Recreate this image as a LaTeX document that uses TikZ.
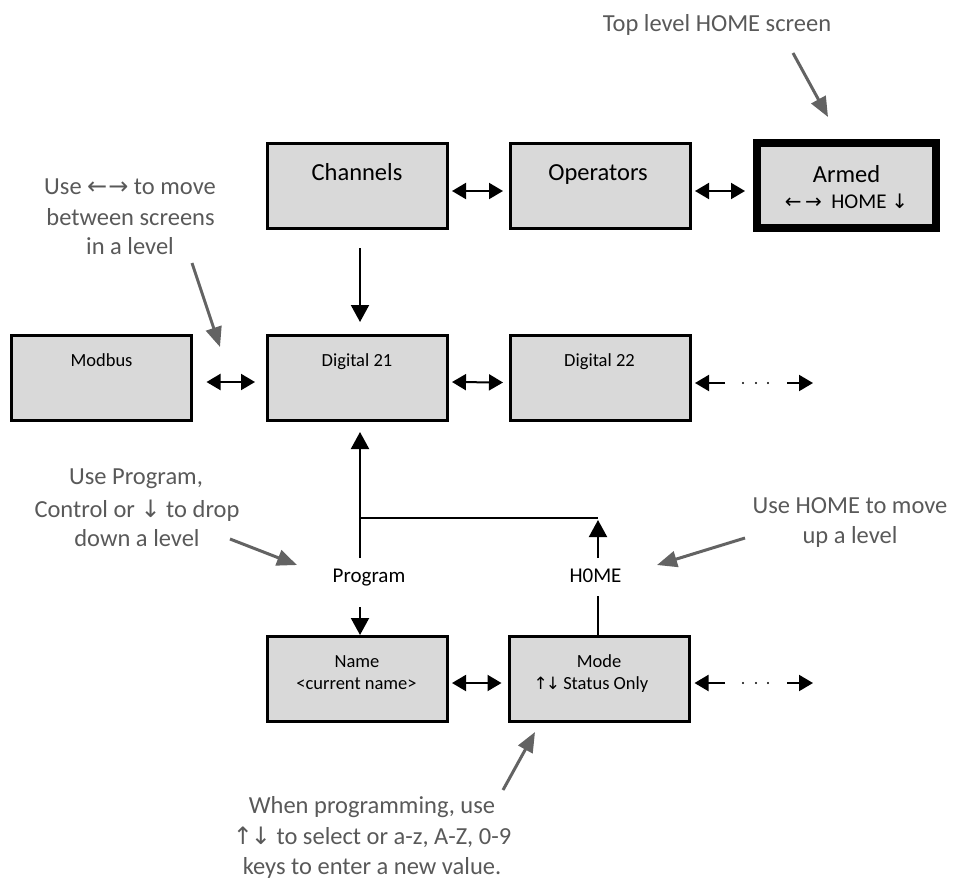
\documentclass[tikz,border=0pt]{standalone}
\usepackage{fontspec}
\setmainfont{Carlito}
\newfontfamily\symfont{DejaVu Sans}
\usetikzlibrary{arrows.meta,calc}
\definecolor{boxgray}{HTML}{D9D9D9}
\definecolor{notegray}{HTML}{595959}
\definecolor{notearrow}{HTML}{636363}
\begin{document}
\begin{tikzpicture}[x=1pt,y=-1pt,
  screen/.style={draw=black,fill=boxgray,line width=3pt,minimum width=180pt,minimum height=85pt,inner sep=0pt,outer sep=0pt},
  big/.style={font=\fontsize{24.5}{29}\selectfont,anchor=base,inner sep=0pt},
  small/.style={font=\fontsize{18.5}{22}\selectfont,anchor=base,inner sep=0pt},
  key/.style={font=\fontsize{21}{25}\selectfont,anchor=base,inner sep=0pt},
  note/.style={font=\fontsize{24.5}{30}\selectfont,text=notegray,anchor=base,inner sep=0pt},
  dbl/.style={line width=2pt,{Triangle[length=14pt,width=16pt]}-{Triangle[length=14pt,width=16pt]}},
  one/.style={line width=2pt,-{Triangle[length=14pt,width=16pt]}},
  vert/.style={line width=2pt,-{Triangle[length=17pt,width=18pt]}},
  plain/.style={line width=2pt},
  notearr/.style={draw=notearrow,line width=3pt,-{Triangle[length=20pt,width=16pt]}}
]
\useasboundingbox (0,0) rectangle (953,879);

% screens
\node[screen] (ch) at (357,185.5) {};
\node[big] (chT) at (357,180) {Channels};
\node[screen] (op) at (600,185.5) {};
\node[big] (opT) at (598,180) {Operators};
\node[screen,line width=8.5pt,minimum width=179pt] (ar) at (846.5,185.5) {};
\node[big] (arT) at (846.5,182) {Armed};
\node[key] (arT2) at (846.5,208) {{\symfont\fontsize{20}{20}\selectfont ←\,→}\ \ HOME {\symfont\fontsize{20}{20}\selectfont ↓}};

\node[screen] (mb) at (101.5,377.5) {};
\node[small] (mbT) at (101.5,366) {Modbus};
\node[screen] (d21) at (357,377.5) {};
\node[small] (d21T) at (357,366) {Digital 21};
\node[screen] (d22) at (600,378) {};
\node[small] (d22T) at (599.5,366) {Digital 22};

\node[screen] (nm) at (357,678.5) {};
\node[small] (nmT) at (357,667) {Name};
\node[small] (nmT2) at (356.5,689) {<current name>};
\node[screen] (md) at (599.5,678.5) {};
\node[small] (mdT) at (599,667) {Mode};
\node[small] (mdT2) at (591,689) {{\symfont\fontsize{17}{20}\selectfont ↑\kern-2pt↓}\,Status Only};

% key labels
\node[key] (prog) at (369,582) {Program};
\node[key] (home) at (595.5,582) {H0ME};

% horizontal connectors
\draw[dbl] ([xshift=5pt,yshift=-5.5pt]ch.east) -- ([xshift=-7pt,yshift=-5.5pt]op.west);
\draw[dbl] ([xshift=5pt,yshift=-5.5pt]op.east) -- ([xshift=-12pt,yshift=-5.5pt]ar.west);
\draw[dbl] ([xshift=15pt,yshift=-4.5pt]mb.east) -- ([xshift=-12pt,yshift=-4.5pt]d21.west);
\draw[dbl] ([xshift=5pt,yshift=-4.5pt]d21.east) -- ([xshift=-7pt,yshift=-4.5pt]d22.west);
\draw[dbl] ([xshift=5pt,yshift=-4.5pt]nm.east) -- ([xshift=-8pt,yshift=-4.5pt]md.west);

% continuation arrows
\coordinate (c1a) at (725,383);
\coordinate (c1b) at (787,383);
\coordinate (c1t) at (813,383);
\draw[one] (c1a) -- ([xshift=5pt,yshift=-5pt]d22.east);
\draw[one] (c1b) -- (c1t);
\foreach \x in {743,756,768} \fill (\x,383) circle (1.2pt);
\coordinate (c2a) at (725,683);
\coordinate (c2b) at (787,683);
\coordinate (c2t) at (813,683);
\draw[one] (c2a) -- ([xshift=5pt,yshift=-4.5pt]md.east);
\draw[one] (c2b) -- (c2t);
\foreach \x in {743,756,768} \fill (\x,683) circle (1.2pt);

% vertical connectors
\draw[vert] ([xshift=3pt,yshift=-20pt]ch.south) -- ([xshift=3pt,yshift=13pt]d21.north);
\coordinate (p1) at (360,558);
\coordinate (p2) at (360,607);
\coordinate (j1) at (360,518);
\coordinate (j2) at (598,518);
\coordinate (h1) at (598,558);
\coordinate (h2) at (598,596);
\draw[vert] (p1) -- ([xshift=3pt,yshift=-12pt]d21.south);
\draw[plain] (j1) -- (j2);
\draw[vert] (h1) -- ([yshift=-2pt]j2);
\draw[plain] (md.north -| h2) -- (h2);
\draw[vert] (p2) -- ([xshift=3pt,yshift=1pt]nm.north);

% notes
\node[note] (n1) at (717,31) {Top level HOME screen};
\coordinate (n1a) at (793,53);
\coordinate (n1b) at (828,117);
\draw[notearr] (n1a) -- (n1b);

\node[note] (n2a) at (130,194) {Use {\symfont\fontsize{24}{20}\selectfont ←\kern1pt→} to move};
\node[note] (n2b) at (130.5,225) {between screens};
\node[note] (n2c) at (130,254) {in a level};
\coordinate (n2s) at (192,263);
\coordinate (n2e) at (220,347);
\draw[notearr] (n2s) -- (n2e);

\node[note] (n3a) at (136,484) {Use Program,};
\node[note] (n3b) at (137,517) {Control or {\symfont\fontsize{24}{20}\selectfont ↓} to drop};
\node[note] (n3c) at (137,546) {down a level};
\coordinate (n3s) at (230,539);
\coordinate (n3e) at (297,565);
\draw[notearr] (n3s) -- (n3e);

\node[note] (n4a) at (850,513) {Use HOME to move};
\node[note] (n4b) at (850,543) {up a level};
\coordinate (n4s) at (745,538);
\coordinate (n4e) at (657,565);
\draw[notearr] (n4s) -- (n4e);

\node[note] (n5a) at (372,813) {When programming, use};
\node[note] (n5b) at (372,844) {{\symfont\fontsize{24}{20}\selectfont ↑\kern-2pt↓} to select or a-z, A-Z, 0-9};
\node[note] (n5c) at (372,874) {keys to enter a new value.};
\coordinate (n5s) at (503,790);
\coordinate (n5e) at (535,732);
\draw[notearr] (n5s) -- (n5e);
\end{tikzpicture}
\end{document}
